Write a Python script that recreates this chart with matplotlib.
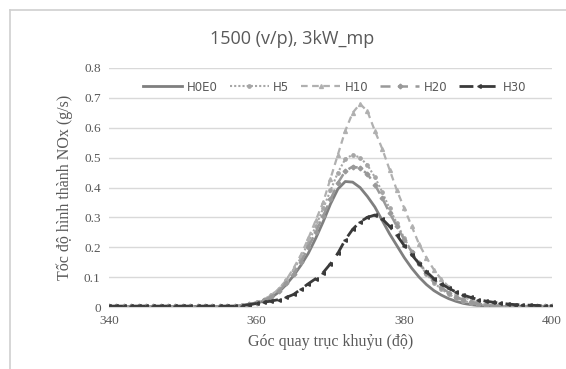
import matplotlib.pyplot as plt
from matplotlib.lines import Line2D

# --- Data (crank angle in degrees, NOx formation rate in g/s) ---
angle = list(range(340, 401))

flat = [0.002] * 18  # 340..357

h0e0 = flat + [0.005, 0.008, 0.013, 0.02, 0.032, 0.05, 0.075, 0.105, 0.14, 0.18,
               0.23, 0.285, 0.345, 0.395, 0.42, 0.418, 0.40, 0.37, 0.335, 0.29,
               0.245, 0.205, 0.165, 0.13, 0.10, 0.075, 0.055, 0.04, 0.028, 0.019,
               0.012, 0.008, 0.005, 0.003, 0.002, 0.002, 0.002, 0.002, 0.002, 0.002,
               0.002, 0.002, 0.002]
h5 = flat + [0.006, 0.01, 0.016, 0.025, 0.04, 0.06, 0.09, 0.125, 0.165, 0.215,
             0.27, 0.33, 0.39, 0.45, 0.495, 0.51, 0.50, 0.475, 0.435, 0.385,
             0.33, 0.28, 0.23, 0.185, 0.145, 0.11, 0.082, 0.06, 0.043, 0.03,
             0.021, 0.014, 0.009, 0.006, 0.004, 0.003, 0.003, 0.003, 0.003, 0.003,
             0.003, 0.003, 0.003]
h10 = flat + [0.006, 0.01, 0.016, 0.025, 0.04, 0.06, 0.09, 0.13, 0.175, 0.23,
              0.29, 0.35, 0.43, 0.51, 0.59, 0.65, 0.68, 0.655, 0.59, 0.53,
              0.46, 0.39, 0.33, 0.27, 0.21, 0.165, 0.125, 0.093, 0.068, 0.048,
              0.034, 0.023, 0.015, 0.01, 0.007, 0.005, 0.004, 0.003, 0.003, 0.003,
              0.003, 0.003, 0.003]
h20 = flat + [0.005, 0.009, 0.014, 0.022, 0.035, 0.053, 0.08, 0.11, 0.15, 0.2,
              0.25, 0.305, 0.36, 0.415, 0.455, 0.47, 0.465, 0.445, 0.41, 0.365,
              0.315, 0.27, 0.225, 0.185, 0.148, 0.115, 0.088, 0.066, 0.048, 0.034,
              0.024, 0.016, 0.011, 0.007, 0.005, 0.004, 0.003, 0.003, 0.003, 0.003,
              0.003, 0.003, 0.003]
h30 = [0.003] * 18 + [0.005, 0.008, 0.012, 0.016, 0.02, 0.025, 0.032, 0.042, 0.06, 0.078,
                      0.095, 0.115, 0.145, 0.18, 0.225, 0.26, 0.285, 0.30, 0.308, 0.295,
                      0.27, 0.24, 0.205, 0.175, 0.145, 0.118, 0.095, 0.078, 0.063, 0.05,
                      0.04, 0.032, 0.025, 0.02, 0.016, 0.013, 0.01, 0.008, 0.007, 0.006,
                      0.005, 0.004, 0.004]

labels = ['H0E0', 'H5', 'H10', 'H20', 'H30']
x_ticks = [340, 360, 380, 400]
y_ticks = [0, 0.1, 0.2, 0.3, 0.4, 0.5, 0.6, 0.7, 0.8]

# --- Figure ---
fig = plt.figure(figsize=(5.66, 3.69), dpi=100)
ax = fig.add_axes([109 / 566, 1 - 307 / 369, (552 - 109) / 566, (307 - 68) / 369])

ax.plot(angle, h0e0, color='#7f7f7f', lw=2.0, label=labels[0])
ax.plot(angle, h5, color='#a6a6a6', lw=1.5, ls=(0, (1, 1)), marker='o', ms=2.4,
        mec='#a6a6a6', label=labels[1])
ax.plot(angle, h10, color='#b0b0b0', lw=1.6, ls=(0, (3, 2)), marker='^', ms=2.8,
        mec='#b0b0b0', label=labels[2])
ax.plot(angle, h20, color='#999999', lw=1.8, ls=(0, (4, 3)), marker='D', ms=2.4,
        mec='#999999', label=labels[3])
ax.plot(angle, h30, color='#3a3a3a', lw=2.0, ls=(0, (5, 3)), marker='<', ms=2.6,
        mec='#3a3a3a', label=labels[4])

ax.set_xlim(340, 400)
ax.set_ylim(0, 0.8)
ax.set_xticks(x_ticks)
ax.set_yticks(y_ticks)
ax.set_yticklabels(['0'] + ['%.1f' % v for v in y_ticks[1:]])
ax.grid(axis='y', color='#d9d9d9', lw=1.0)
ax.set_axisbelow(True)
for s in ['top', 'right', 'left']:
    ax.spines[s].set_visible(False)
ax.spines['bottom'].set_color('#d9d9d9')
ax.tick_params(length=0, labelsize=9.5, labelcolor='#595959', pad=6)
for lab in ax.get_xticklabels() + ax.get_yticklabels():
    lab.set_family('Liberation Serif')

ax.set_xlabel('Góc quay trục khuỷu (độ)', family='Liberation Serif', fontsize=11.5,
              color='#595959', labelpad=5)
ax.set_ylabel('Tốc độ hình thành NOx (g/s)', family='Liberation Serif', fontsize=11.5,
              color='#595959', labelpad=8)

fig.text(292 / 566, 1 - 39 / 369, '1500 (v/p), 3kW_mp', ha='center', va='center',
         fontsize=13, color='#595959', family='Open Sans')

leg = ax.legend(loc='center', bbox_to_anchor=(0.51, 0.92), ncol=5, frameon=False,
                fontsize=8.5, handlelength=3.3, columnspacing=1.0, handletextpad=0.4)
for t in leg.get_texts():
    t.set_color('#595959')

# thin frame at left and top of the picture
fig.add_artist(Line2D([10 / 566, 10 / 566], [0, 1 - 10 / 369], color='#d0d0d0', lw=1.2))
fig.add_artist(Line2D([10 / 566, 1], [1 - 10 / 369, 1 - 10 / 369], color='#d0d0d0', lw=1.2))

fig.savefig('out.png', dpi=100)
